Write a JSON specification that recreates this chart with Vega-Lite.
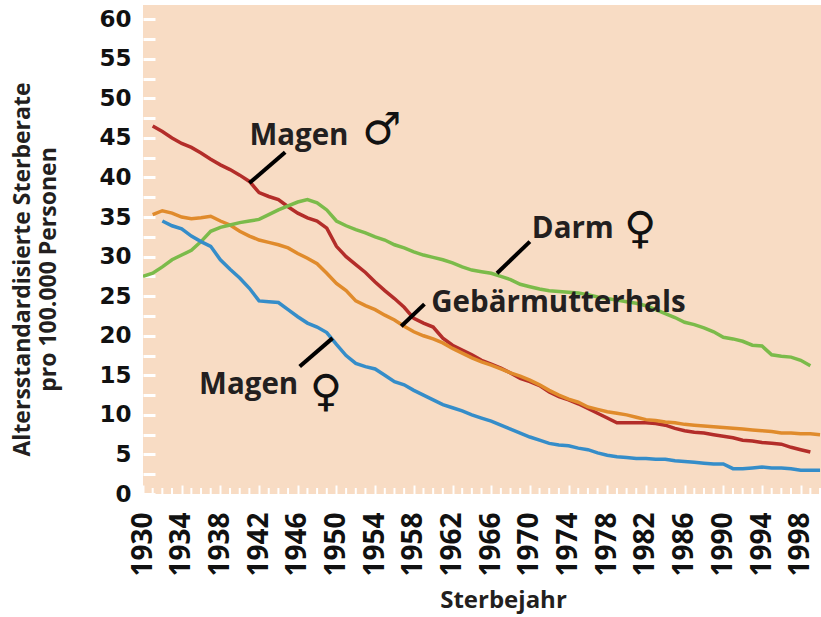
{
  "$schema": "https://vega.github.io/schema/vega-lite/v6.json",
  "autosize": "none",
  "width": 678,
  "height": 489,
  "padding": {"left": 143, "top": 5, "right": 0, "bottom": 123},
  "background": "white",
  "config": {"view": {"fill": "#f8dcc4", "stroke": null}, "axis": {"labelOverlap": false}},
  "datasets": {
    "series": [
      {"series":"Magen m","year":1931,"value":46.5},{"series":"Magen m","year":1932,"value":45.8},{"series":"Magen m","year":1933,"value":45.0},{"series":"Magen m","year":1934,"value":44.3},{"series":"Magen m","year":1935,"value":43.8},{"series":"Magen m","year":1936,"value":43.1},{"series":"Magen m","year":1937,"value":42.3},{"series":"Magen m","year":1938,"value":41.6},{"series":"Magen m","year":1939,"value":41.0},{"series":"Magen m","year":1940,"value":40.3},{"series":"Magen m","year":1941,"value":39.5},{"series":"Magen m","year":1942,"value":38.1},{"series":"Magen m","year":1943,"value":37.6},{"series":"Magen m","year":1944,"value":37.2},{"series":"Magen m","year":1945,"value":36.3},{"series":"Magen m","year":1946,"value":35.5},{"series":"Magen m","year":1947,"value":34.9},{"series":"Magen m","year":1948,"value":34.5},{"series":"Magen m","year":1949,"value":33.6},{"series":"Magen m","year":1950,"value":31.3},{"series":"Magen m","year":1951,"value":30.0},{"series":"Magen m","year":1952,"value":29.0},{"series":"Magen m","year":1953,"value":28.0},{"series":"Magen m","year":1954,"value":26.8},{"series":"Magen m","year":1955,"value":25.7},{"series":"Magen m","year":1956,"value":24.7},{"series":"Magen m","year":1957,"value":23.6},{"series":"Magen m","year":1958,"value":22.2},{"series":"Magen m","year":1959,"value":21.6},{"series":"Magen m","year":1960,"value":21.1},{"series":"Magen m","year":1961,"value":19.7},{"series":"Magen m","year":1962,"value":18.8},{"series":"Magen m","year":1963,"value":18.2},{"series":"Magen m","year":1964,"value":17.6},{"series":"Magen m","year":1965,"value":16.9},{"series":"Magen m","year":1966,"value":16.4},{"series":"Magen m","year":1967,"value":15.9},{"series":"Magen m","year":1968,"value":15.3},{"series":"Magen m","year":1969,"value":14.6},{"series":"Magen m","year":1970,"value":14.2},{"series":"Magen m","year":1971,"value":13.7},{"series":"Magen m","year":1972,"value":12.9},{"series":"Magen m","year":1973,"value":12.3},{"series":"Magen m","year":1974,"value":11.9},{"series":"Magen m","year":1975,"value":11.4},{"series":"Magen m","year":1976,"value":10.8},{"series":"Magen m","year":1977,"value":10.2},{"series":"Magen m","year":1978,"value":9.6},{"series":"Magen m","year":1979,"value":9.0},{"series":"Magen m","year":1980,"value":9.0},{"series":"Magen m","year":1981,"value":9.0},{"series":"Magen m","year":1982,"value":9.0},{"series":"Magen m","year":1983,"value":8.9},{"series":"Magen m","year":1984,"value":8.7},{"series":"Magen m","year":1985,"value":8.3},{"series":"Magen m","year":1986,"value":8.0},{"series":"Magen m","year":1987,"value":7.8},{"series":"Magen m","year":1988,"value":7.7},{"series":"Magen m","year":1989,"value":7.5},{"series":"Magen m","year":1990,"value":7.3},{"series":"Magen m","year":1991,"value":7.1},{"series":"Magen m","year":1992,"value":6.8},{"series":"Magen m","year":1993,"value":6.7},{"series":"Magen m","year":1994,"value":6.5},{"series":"Magen m","year":1995,"value":6.4},{"series":"Magen m","year":1996,"value":6.3},{"series":"Magen m","year":1997,"value":5.9},{"series":"Magen m","year":1998,"value":5.6},{"series":"Magen m","year":1999,"value":5.3},
      {"series":"Gebärmutterhals","year":1931,"value":35.3},{"series":"Gebärmutterhals","year":1932,"value":35.8},{"series":"Gebärmutterhals","year":1933,"value":35.5},{"series":"Gebärmutterhals","year":1934,"value":35.0},{"series":"Gebärmutterhals","year":1935,"value":34.8},{"series":"Gebärmutterhals","year":1936,"value":34.9},{"series":"Gebärmutterhals","year":1937,"value":35.1},{"series":"Gebärmutterhals","year":1938,"value":34.5},{"series":"Gebärmutterhals","year":1939,"value":34.0},{"series":"Gebärmutterhals","year":1940,"value":33.2},{"series":"Gebärmutterhals","year":1941,"value":32.6},{"series":"Gebärmutterhals","year":1942,"value":32.1},{"series":"Gebärmutterhals","year":1943,"value":31.8},{"series":"Gebärmutterhals","year":1944,"value":31.5},{"series":"Gebärmutterhals","year":1945,"value":31.1},{"series":"Gebärmutterhals","year":1946,"value":30.4},{"series":"Gebärmutterhals","year":1947,"value":29.8},{"series":"Gebärmutterhals","year":1948,"value":29.1},{"series":"Gebärmutterhals","year":1949,"value":27.9},{"series":"Gebärmutterhals","year":1950,"value":26.6},{"series":"Gebärmutterhals","year":1951,"value":25.7},{"series":"Gebärmutterhals","year":1952,"value":24.4},{"series":"Gebärmutterhals","year":1953,"value":23.8},{"series":"Gebärmutterhals","year":1954,"value":23.3},{"series":"Gebärmutterhals","year":1955,"value":22.6},{"series":"Gebärmutterhals","year":1956,"value":22.0},{"series":"Gebärmutterhals","year":1957,"value":21.2},{"series":"Gebärmutterhals","year":1958,"value":20.5},{"series":"Gebärmutterhals","year":1959,"value":20.0},{"series":"Gebärmutterhals","year":1960,"value":19.6},{"series":"Gebärmutterhals","year":1961,"value":19.1},{"series":"Gebärmutterhals","year":1962,"value":18.4},{"series":"Gebärmutterhals","year":1963,"value":17.8},{"series":"Gebärmutterhals","year":1964,"value":17.2},{"series":"Gebärmutterhals","year":1965,"value":16.7},{"series":"Gebärmutterhals","year":1966,"value":16.3},{"series":"Gebärmutterhals","year":1967,"value":15.8},{"series":"Gebärmutterhals","year":1968,"value":15.3},{"series":"Gebärmutterhals","year":1969,"value":14.9},{"series":"Gebärmutterhals","year":1970,"value":14.4},{"series":"Gebärmutterhals","year":1971,"value":13.8},{"series":"Gebärmutterhals","year":1972,"value":13.1},{"series":"Gebärmutterhals","year":1973,"value":12.5},{"series":"Gebärmutterhals","year":1974,"value":12.0},{"series":"Gebärmutterhals","year":1975,"value":11.6},{"series":"Gebärmutterhals","year":1976,"value":11.0},{"series":"Gebärmutterhals","year":1977,"value":10.7},{"series":"Gebärmutterhals","year":1978,"value":10.4},{"series":"Gebärmutterhals","year":1979,"value":10.2},{"series":"Gebärmutterhals","year":1980,"value":10.0},{"series":"Gebärmutterhals","year":1981,"value":9.7},{"series":"Gebärmutterhals","year":1982,"value":9.4},{"series":"Gebärmutterhals","year":1983,"value":9.3},{"series":"Gebärmutterhals","year":1984,"value":9.1},{"series":"Gebärmutterhals","year":1985,"value":9.0},{"series":"Gebärmutterhals","year":1986,"value":8.8},{"series":"Gebärmutterhals","year":1987,"value":8.7},{"series":"Gebärmutterhals","year":1988,"value":8.6},{"series":"Gebärmutterhals","year":1989,"value":8.5},{"series":"Gebärmutterhals","year":1990,"value":8.4},{"series":"Gebärmutterhals","year":1991,"value":8.3},{"series":"Gebärmutterhals","year":1992,"value":8.2},{"series":"Gebärmutterhals","year":1993,"value":8.1},{"series":"Gebärmutterhals","year":1994,"value":8.0},{"series":"Gebärmutterhals","year":1995,"value":7.9},{"series":"Gebärmutterhals","year":1996,"value":7.7},{"series":"Gebärmutterhals","year":1997,"value":7.7},{"series":"Gebärmutterhals","year":1998,"value":7.6},{"series":"Gebärmutterhals","year":1999,"value":7.6},{"series":"Gebärmutterhals","year":2000,"value":7.5},
      {"series":"Darm w","year":1930,"value":27.5},{"series":"Darm w","year":1931,"value":27.9},{"series":"Darm w","year":1932,"value":28.7},{"series":"Darm w","year":1933,"value":29.6},{"series":"Darm w","year":1934,"value":30.2},{"series":"Darm w","year":1935,"value":30.8},{"series":"Darm w","year":1936,"value":31.9},{"series":"Darm w","year":1937,"value":33.2},{"series":"Darm w","year":1938,"value":33.7},{"series":"Darm w","year":1939,"value":34.0},{"series":"Darm w","year":1940,"value":34.3},{"series":"Darm w","year":1941,"value":34.5},{"series":"Darm w","year":1942,"value":34.7},{"series":"Darm w","year":1943,"value":35.3},{"series":"Darm w","year":1944,"value":35.9},{"series":"Darm w","year":1945,"value":36.4},{"series":"Darm w","year":1946,"value":36.9},{"series":"Darm w","year":1947,"value":37.2},{"series":"Darm w","year":1948,"value":36.8},{"series":"Darm w","year":1949,"value":35.9},{"series":"Darm w","year":1950,"value":34.5},{"series":"Darm w","year":1951,"value":33.9},{"series":"Darm w","year":1952,"value":33.4},{"series":"Darm w","year":1953,"value":33.0},{"series":"Darm w","year":1954,"value":32.5},{"series":"Darm w","year":1955,"value":32.1},{"series":"Darm w","year":1956,"value":31.5},{"series":"Darm w","year":1957,"value":31.1},{"series":"Darm w","year":1958,"value":30.6},{"series":"Darm w","year":1959,"value":30.2},{"series":"Darm w","year":1960,"value":29.9},{"series":"Darm w","year":1961,"value":29.6},{"series":"Darm w","year":1962,"value":29.2},{"series":"Darm w","year":1963,"value":28.7},{"series":"Darm w","year":1964,"value":28.3},{"series":"Darm w","year":1965,"value":28.1},{"series":"Darm w","year":1966,"value":27.9},{"series":"Darm w","year":1967,"value":27.5},{"series":"Darm w","year":1968,"value":27.1},{"series":"Darm w","year":1969,"value":26.5},{"series":"Darm w","year":1970,"value":26.2},{"series":"Darm w","year":1971,"value":25.9},{"series":"Darm w","year":1972,"value":25.7},{"series":"Darm w","year":1973,"value":25.6},{"series":"Darm w","year":1974,"value":25.5},{"series":"Darm w","year":1975,"value":25.4},{"series":"Darm w","year":1976,"value":25.2},{"series":"Darm w","year":1977,"value":24.9},{"series":"Darm w","year":1978,"value":24.7},{"series":"Darm w","year":1979,"value":24.5},{"series":"Darm w","year":1980,"value":24.3},{"series":"Darm w","year":1981,"value":24.1},{"series":"Darm w","year":1982,"value":23.8},{"series":"Darm w","year":1983,"value":23.3},{"series":"Darm w","year":1984,"value":22.8},{"series":"Darm w","year":1985,"value":22.3},{"series":"Darm w","year":1986,"value":21.7},{"series":"Darm w","year":1987,"value":21.4},{"series":"Darm w","year":1988,"value":21.0},{"series":"Darm w","year":1989,"value":20.5},{"series":"Darm w","year":1990,"value":19.8},{"series":"Darm w","year":1991,"value":19.6},{"series":"Darm w","year":1992,"value":19.3},{"series":"Darm w","year":1993,"value":18.8},{"series":"Darm w","year":1994,"value":18.7},{"series":"Darm w","year":1995,"value":17.6},{"series":"Darm w","year":1996,"value":17.4},{"series":"Darm w","year":1997,"value":17.3},{"series":"Darm w","year":1998,"value":16.9},{"series":"Darm w","year":1999,"value":16.2},
      {"series":"Magen w","year":1932,"value":34.5},{"series":"Magen w","year":1933,"value":33.9},{"series":"Magen w","year":1934,"value":33.5},{"series":"Magen w","year":1935,"value":32.6},{"series":"Magen w","year":1936,"value":31.9},{"series":"Magen w","year":1937,"value":31.3},{"series":"Magen w","year":1938,"value":29.6},{"series":"Magen w","year":1939,"value":28.4},{"series":"Magen w","year":1940,"value":27.3},{"series":"Magen w","year":1941,"value":26.0},{"series":"Magen w","year":1942,"value":24.4},{"series":"Magen w","year":1943,"value":24.3},{"series":"Magen w","year":1944,"value":24.2},{"series":"Magen w","year":1945,"value":23.3},{"series":"Magen w","year":1946,"value":22.4},{"series":"Magen w","year":1947,"value":21.6},{"series":"Magen w","year":1948,"value":21.1},{"series":"Magen w","year":1949,"value":20.4},{"series":"Magen w","year":1950,"value":18.9},{"series":"Magen w","year":1951,"value":17.5},{"series":"Magen w","year":1952,"value":16.5},{"series":"Magen w","year":1953,"value":16.1},{"series":"Magen w","year":1954,"value":15.8},{"series":"Magen w","year":1955,"value":15.0},{"series":"Magen w","year":1956,"value":14.2},{"series":"Magen w","year":1957,"value":13.8},{"series":"Magen w","year":1958,"value":13.1},{"series":"Magen w","year":1959,"value":12.5},{"series":"Magen w","year":1960,"value":11.9},{"series":"Magen w","year":1961,"value":11.3},{"series":"Magen w","year":1962,"value":10.9},{"series":"Magen w","year":1963,"value":10.5},{"series":"Magen w","year":1964,"value":10.0},{"series":"Magen w","year":1965,"value":9.6},{"series":"Magen w","year":1966,"value":9.2},{"series":"Magen w","year":1967,"value":8.7},{"series":"Magen w","year":1968,"value":8.2},{"series":"Magen w","year":1969,"value":7.7},{"series":"Magen w","year":1970,"value":7.2},{"series":"Magen w","year":1971,"value":6.8},{"series":"Magen w","year":1972,"value":6.4},{"series":"Magen w","year":1973,"value":6.2},{"series":"Magen w","year":1974,"value":6.1},{"series":"Magen w","year":1975,"value":5.8},{"series":"Magen w","year":1976,"value":5.6},{"series":"Magen w","year":1977,"value":5.2},{"series":"Magen w","year":1978,"value":4.9},{"series":"Magen w","year":1979,"value":4.7},{"series":"Magen w","year":1980,"value":4.6},{"series":"Magen w","year":1981,"value":4.5},{"series":"Magen w","year":1982,"value":4.5},{"series":"Magen w","year":1983,"value":4.4},{"series":"Magen w","year":1984,"value":4.4},{"series":"Magen w","year":1985,"value":4.2},{"series":"Magen w","year":1986,"value":4.1},{"series":"Magen w","year":1987,"value":4.0},{"series":"Magen w","year":1988,"value":3.9},{"series":"Magen w","year":1989,"value":3.8},{"series":"Magen w","year":1990,"value":3.8},{"series":"Magen w","year":1991,"value":3.2},{"series":"Magen w","year":1992,"value":3.2},{"series":"Magen w","year":1993,"value":3.3},{"series":"Magen w","year":1994,"value":3.4},{"series":"Magen w","year":1995,"value":3.3},{"series":"Magen w","year":1996,"value":3.3},{"series":"Magen w","year":1997,"value":3.2},{"series":"Magen w","year":1998,"value":3.0},{"series":"Magen w","year":1999,"value":3.0},{"series":"Magen w","year":2000,"value":3.0}
    ],
    "minorTicks": [
      {"year":1931,"value":0},{"year":1932,"value":0},{"year":1933,"value":0},{"year":1935,"value":0},{"year":1936,"value":0},{"year":1937,"value":0},{"year":1939,"value":0},{"year":1940,"value":0},{"year":1941,"value":0},{"year":1943,"value":0},{"year":1944,"value":0},{"year":1945,"value":0},{"year":1947,"value":0},{"year":1948,"value":0},{"year":1949,"value":0},{"year":1951,"value":0},{"year":1952,"value":0},{"year":1953,"value":0},{"year":1955,"value":0},{"year":1956,"value":0},{"year":1957,"value":0},{"year":1959,"value":0},{"year":1960,"value":0},{"year":1961,"value":0},{"year":1963,"value":0},{"year":1964,"value":0},{"year":1965,"value":0},{"year":1967,"value":0},{"year":1968,"value":0},{"year":1969,"value":0},{"year":1971,"value":0},{"year":1972,"value":0},{"year":1973,"value":0},{"year":1975,"value":0},{"year":1976,"value":0},{"year":1977,"value":0},{"year":1979,"value":0},{"year":1980,"value":0},{"year":1981,"value":0},{"year":1983,"value":0},{"year":1984,"value":0},{"year":1985,"value":0},{"year":1987,"value":0},{"year":1988,"value":0},{"year":1989,"value":0},{"year":1991,"value":0},{"year":1992,"value":0},{"year":1993,"value":0},{"year":1995,"value":0},{"year":1996,"value":0},{"year":1997,"value":0},{"year":1999,"value":0},{"year":2000,"value":0}
    ],
    "leaders": [
      {"year":1941.0,"value":39.3,"year2":1944.7,"value2":43.2},
      {"year":1966.6,"value":27.9,"year2":1970.0,"value2":31.9},
      {"year":1956.7,"value":21.2,"year2":1959.1,"value2":24.0},
      {"year":1946.2,"value":16.1,"year2":1949.6,"value2":19.7}
    ],
    "labels": [
      {"label":"Magen","year":1941.0,"value":44.1},
      {"label":"Darm","year":1970.2,"value":32.4},
      {"label":"Gebärmutterhals","year":1959.8,"value":23.0},
      {"label":"Magen","year":1935.8,"value":12.6}
    ],
    "symbols": [
      {"sym":"♂","year":1954.7,"value":45.9},
      {"sym":"♀","year":1981.4,"value":33.4},
      {"sym":"♀","year":1948.9,"value":12.8}
    ]
  },
  "encoding": {
    "x": {
      "field": "year", "type": "quantitative",
      "scale": {"domain": [1930, 2000.1], "nice": false, "zero": false},
      "axis": {
        "orient": "bottom",
        "title": "Sterbejahr",
        "values": [1930,1934,1938,1942,1946,1950,1954,1958,1962,1966,1970,1974,1978,1982,1986,1990,1994,1998],
        "format": "d",
        "domain": false, "grid": false,
        "ticks": true, "tickColor": "white", "tickSize": -9, "tickWidth": 2,
        "labelAngle": 270, "labelAlign": "right", "labelBaseline": "middle",
        "labelFont": "Open Sans", "labelFontWeight": "bold", "labelFontSize": 28, "labelColor": "#111111",
        "labelPadding": 27, "labelOverlap": false, "labelFlush": false, "labelBound": false,
        "titleFont": "Open Sans", "titleFontWeight": "bold", "titleFontSize": 24, "titleColor": "#231f20",
        "titlePadding": 12, "titleX": 360
      }
    },
    "y": {
      "field": "value", "type": "quantitative",
      "scale": {"domain": [0, 61.8], "nice": false},
      "axis": {
        "title": ["Altersstandardisierte Sterberate", "pro 100.000 Personen"],
        "values": [0,2.5,5,7.5,10,12.5,15,17.5,20,22.5,25,27.5,30,32.5,35,37.5,40,42.5,45,47.5,50,52.5,55,57.5,60],
        "labelExpr": "datum.value % 5 == 0 ? datum.label : ''",
        "domain": false, "grid": false,
        "ticks": true, "tickColor": "white", "tickSize": -12, "tickWidth": 3,
        "labelFont": "DejaVu Sans", "labelFontWeight": "bold", "labelFontSize": 23, "labelColor": "#111111",
        "labelPadding": 24, "labelOverlap": false, "labelFlush": false,
        "titleFont": "Open Sans", "titleFontWeight": "bold", "titleFontSize": 23, "titleColor": "#231f20",
        "titleLineHeight": 26, "titlePadding": 38, "titleY": 264
      }
    }
  },
  "layer": [
    {
      "data": {"name": "series"},
      "mark": {"type": "line", "strokeWidth": 3.5, "clip": true},
      "encoding": {
        "color": {
          "field": "series", "type": "nominal", "legend": null,
          "scale": {"domain": ["Magen m", "Gebärmutterhals", "Darm w", "Magen w"], "range": ["#b32d29", "#e08b2c", "#7bbb4a", "#358dc9"]}
        }
      }
    },
    {
      "data": {"name": "minorTicks"},
      "mark": {"type": "tick", "orient": "vertical", "color": "white", "size": 12, "thickness": 2, "opacity": 1},
      "encoding": {}
    },
    {
      "data": {"name": "leaders"},
      "mark": {"type": "rule", "color": "black", "strokeWidth": 4},
      "encoding": {
        "x2": {"field": "year2"},
        "y2": {"field": "value2"}
      }
    },
    {
      "data": {"name": "labels"},
      "mark": {"type": "text", "font": "Open Sans", "fontWeight": "bold", "fontSize": 29.5, "align": "left", "baseline": "alphabetic", "color": "#231f20"},
      "encoding": {
        "text": {"field": "label"}
      }
    },
    {
      "data": {"name": "symbols"},
      "mark": {"type": "text", "font": "DejaVu Sans", "fontSize": 44, "align": "center", "baseline": "middle", "color": "#111111"},
      "encoding": {
        "text": {"field": "sym"}
      }
    }
  ]
}
